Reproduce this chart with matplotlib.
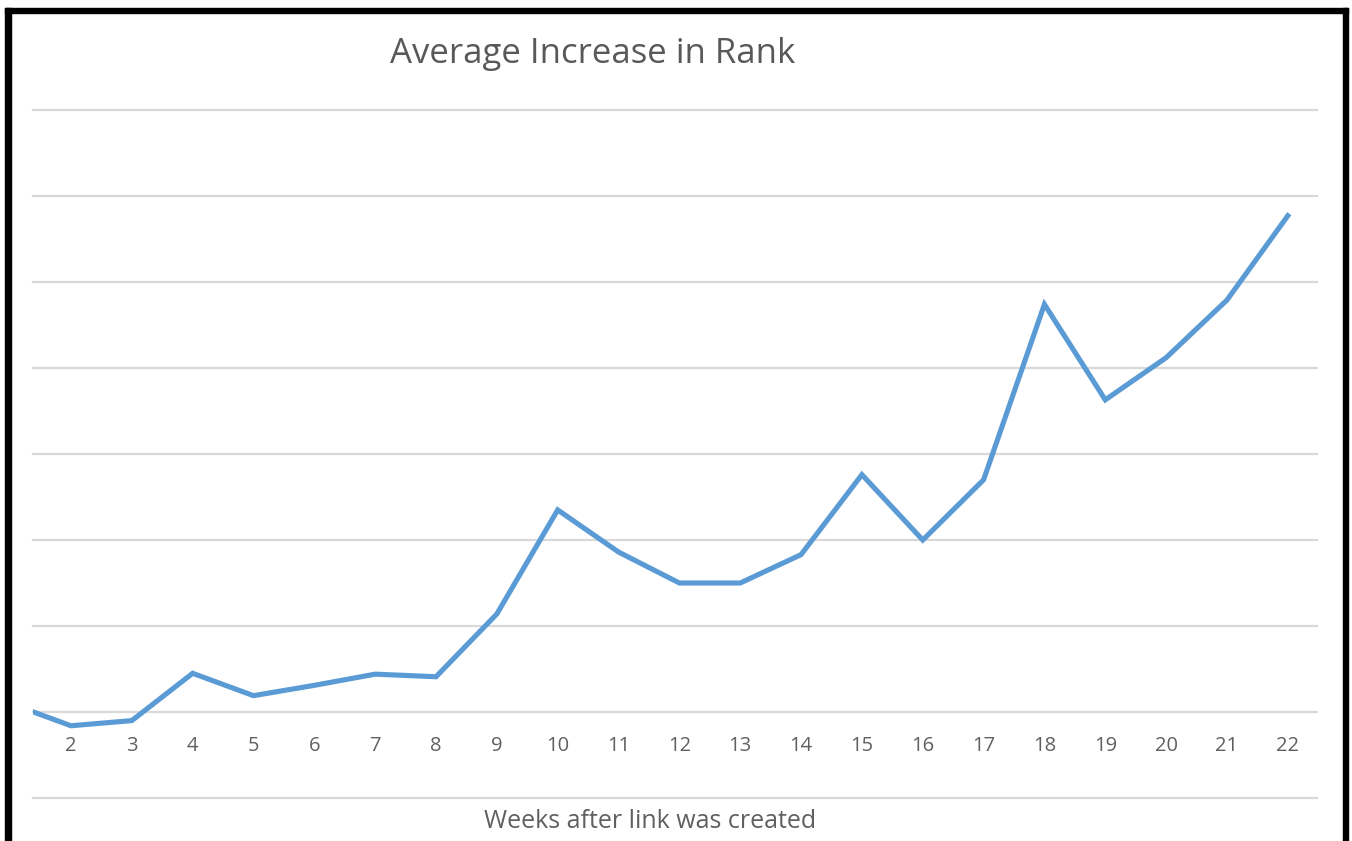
# Average Increase in Rank - line chart recreation
import matplotlib
matplotlib.use("Agg")
import matplotlib.pyplot as plt
from matplotlib.patches import Rectangle

weeks = list(range(1, 23))
avg_increase = [0.10, -0.16, -0.10, 0.45, 0.19, 0.31, 0.44, 0.41, 1.14, 2.35, 1.86,
                1.50, 1.50, 1.83, 2.76, 2.00, 2.70, 4.74, 3.63, 4.12, 4.79, 5.77]
grid_levels = [-1, 0, 1, 2, 3, 4, 5, 6, 7]

title = "Average Increase in Rank"
x_title = "Weeks after link was created"

W, H = 1352, 841
fig = plt.figure(figsize=(W / 100, H / 100), dpi=100)
fig.patch.set_facecolor("white")

# axes placed in pixels: x 33..1317, y 110..798
left, right, top, bottom = 33, 1317, 110, 798
ax = fig.add_axes([left / W, 1 - bottom / H, (right - left) / W, (bottom - top) / H])
ax.set_xlim(1.376, 22.48)
ax.set_ylim(-1, 7)
ax.axis("off")

for g in grid_levels:
    ax.axhline(g, color="#d9d9d9", lw=1.6, zorder=1, clip_on=False)

ax.plot(weeks, avg_increase, color="#5b9bd5", lw=3.7, solid_joinstyle="miter", zorder=3)

for w in weeks:
    if w >= 2:
        ax.text(w, -0.40, str(w), ha="center", va="center", fontsize=14.5,
                color="#606060", family="Open Sans")

fig.text(593 / W, 1 - 54 / H, title, ha="center", va="center", fontsize=25,
         color="#595959", family="Open Sans")
fig.text(650 / W, 1 - 822 / H, x_title, ha="center", va="center", fontsize=18,
         color="#606060", family="Open Sans")

# black frame around the image (no bottom edge)
fig.patches.append(Rectangle((5 / W, 0), 6 / W, 1 - 8 / H, transform=fig.transFigure,
                             color="black", zorder=10))
fig.patches.append(Rectangle((5 / W, 1 - 13 / H), (1348 - 5) / W, 5 / H,
                             transform=fig.transFigure, color="black", zorder=10))
fig.patches.append(Rectangle((1343 / W, 0), 5 / W, 1 - 8 / H, transform=fig.transFigure,
                             color="black", zorder=10))

fig.savefig("out.png", dpi=100)
